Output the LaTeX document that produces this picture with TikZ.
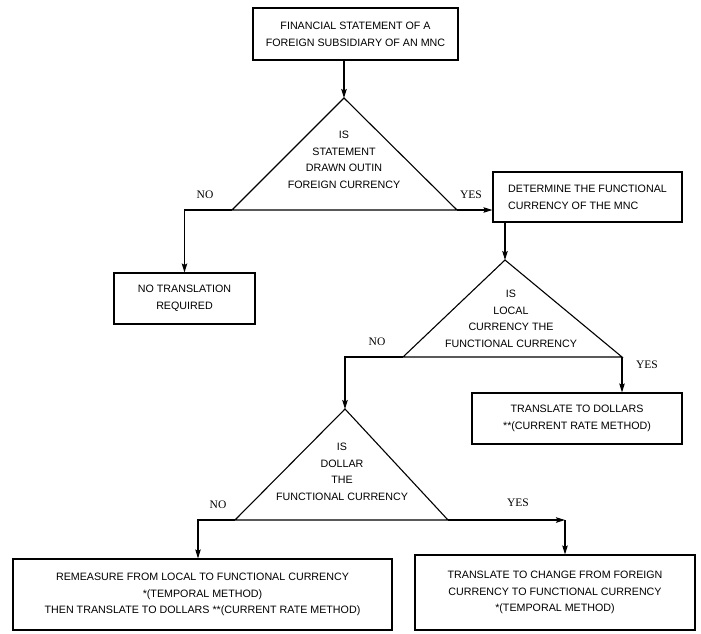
\documentclass[tikz,border=0pt]{standalone}
\usepackage{fontspec}
\usetikzlibrary{arrows.meta}
\newfontfamily\boxfont{Liberation Sans}
\newfontfamily\labfont{Liberation Serif}
\begin{document}
\begin{tikzpicture}[x=1pt,y=-1pt,
  line width=1.1pt,
  box/.style={draw, inner sep=0pt, align=center,
    font=\boxfont\fontsize{10.7}{16.8}\selectfont},
  qtext/.style={inner sep=0pt, align=center,
    font=\boxfont\fontsize{10.7}{16.6}\selectfont},
  lab/.style={inner sep=0pt, font=\labfont\fontsize{11.5}{12}\selectfont},
  arr/.style={-{Stealth[length=9pt,width=5.5pt,inset=1.5pt]}},
  tri/.style={draw, line join=miter}]
\useasboundingbox (0,0) rectangle (701,633);

% process boxes
\node[box, minimum width=205pt, minimum height=52pt] (fs) at (355.5,34)
  {FINANCIAL STATEMENT OF A\\FOREIGN SUBSIDIARY OF AN MNC};
\node[box, minimum width=141pt, minimum height=51pt] (nt) at (184.5,298.5)
  {NO TRANSLATION\\REQUIRED};
\node[box, align=left, minimum width=189pt, minimum height=50pt] (det) at (587.5,197)
  {DETERMINE THE FUNCTIONAL\\CURRENCY OF THE MNC};
\node[box, minimum width=210pt, minimum height=51pt] (td) at (577,418.5)
  {TRANSLATE TO DOLLARS\\**(CURRENT RATE METHOD)};
\node[box, minimum width=379pt, minimum height=71pt] (rm) at (202.5,594.5)
  {REMEASURE FROM LOCAL TO FUNCTIONAL CURRENCY\\*(TEMPORAL METHOD)\\THEN TRANSLATE TO DOLLARS **(CURRENT RATE METHOD)};
\node[box, minimum width=280pt, minimum height=75pt] (tc) at (555,592.5)
  {TRANSLATE TO CHANGE FROM FOREIGN\\CURRENCY TO FUNCTIONAL CURRENCY\\*(TEMPORAL METHOD)};

% decision triangles
\coordinate (d1a) at (344,98);
\coordinate (d1l) at (232,210);
\coordinate (d1r) at (457,210);
\draw[tri] (d1a) -- (d1l) -- (d1r) -- cycle;
\node[qtext] (q1) at (344,160) {IS\\STATEMENT\\DRAWN OUTIN\\FOREIGN CURRENCY};

\coordinate (d2a) at (505,260);
\coordinate (d2l) at (403,357);
\coordinate (d2r) at (622,357);
\draw[tri] (d2a) -- (d2l) -- (d2r) -- cycle;
\node[qtext] (q2) at (511,319) {IS\\LOCAL\\CURRENCY THE\\FUNCTIONAL CURRENCY};

\coordinate (d3a) at (345,409);
\coordinate (d3l) at (235,520);
\coordinate (d3r) at (448,520);
\draw[tri] (d3a) -- (d3l) -- (d3r) -- cycle;
\node[qtext] (q3) at (342,472) {IS\\DOLLAR\\THE\\FUNCTIONAL CURRENCY};

% branch corners
\coordinate (c1) at (184.5,210);
\coordinate (c3) at (198,520);
\coordinate (c4) at (565,520);

% connectors
\draw[arr] (d1a |- fs.south) -- (d1a);
\draw[arr] (d1l) -- (c1) -- (nt.north);
\draw[arr] (d1r) -- (d1r -| det.west);
\draw[arr] (d2a |- det.south) -- (d2a);
\draw[arr] (d2l) -| (d3a);
\draw[arr] (d2r) -- (d2r |- td.north);
\draw[arr] (d3l) -- (c3) -- (c3 |- rm.north);
\draw[arr] (d3r) -- (c4);
\draw[arr] (c4) -- (c4 |- tc.north);

% branch labels
\node[lab] (n1) at (205,195) {NO};
\node[lab] (y1) at (471,195) {YES};
\node[lab] (n2) at (377,342) {NO};
\node[lab] (y2) at (647,365) {YES};
\node[lab] (n3) at (218,505) {NO};
\node[lab] (y3) at (518,503) {YES};
\end{tikzpicture}
\end{document}
